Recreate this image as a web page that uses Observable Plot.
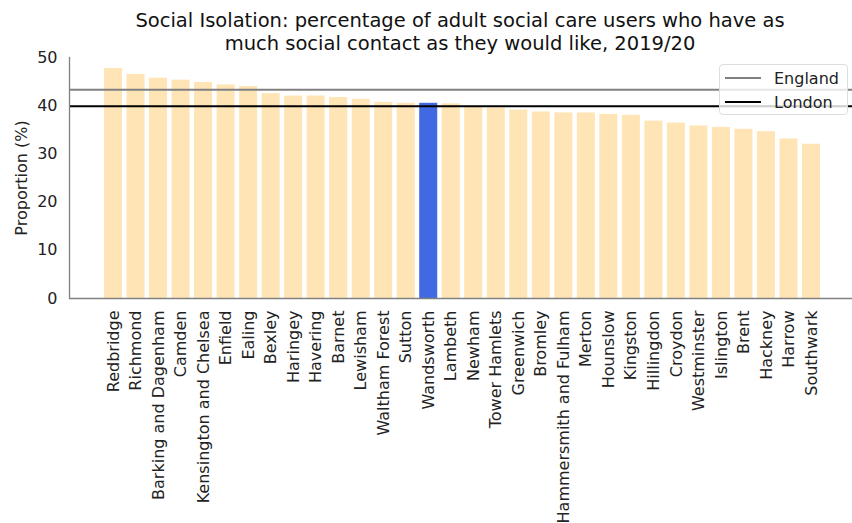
<!DOCTYPE html>
<html>
<head>
<meta charset="utf-8">
<script src="https://cdn.jsdelivr.net/npm/d3@7"></script>
<script src="https://cdn.jsdelivr.net/npm/@observablehq/plot@0.6"></script>
<style>
  body { margin: 0; background: #fff; font-family: "DejaVu Sans", sans-serif; }
  #wrap { position: relative; width: 852px; height: 523px; overflow: hidden; }
  #title { position: absolute; left: 60px; width: 800px; top: 10px; text-align: center;
           font-family: "DejaVu Sans", sans-serif; font-size: 19.5px; line-height: 22.5px; color: #111; }
  #legend { position: absolute; left: 719px; top: 64px; width: 129px; height: 51px;
            background: rgba(255,255,255,0.8); border: 1px solid #ddd; border-radius: 4px;
            box-sizing: border-box; font-family: "DejaVu Sans", sans-serif; font-size: 16px; color: #222; }
  .item { position: absolute; left: 5px; height: 20px; display: flex; align-items: center; }
  .swatch { width: 36px; height: 0; border-top: 2px solid; margin-right: 13px; }
</style>
</head>
<body>
<div id="wrap">
  <div id="chart"></div>
  <div id="title">Social Isolation: percentage of adult social care users who have as<br>much social contact as they would like, 2019/20</div>
  <div id="legend"></div>
</div>
<script>
const boroughs = ["Redbridge","Richmond","Barking and Dagenham","Camden","Kensington and Chelsea","Enfield","Ealing","Bexley","Haringey","Havering","Barnet","Lewisham","Waltham Forest","Sutton","Wandsworth","Lambeth","Newham","Tower Hamlets","Greenwich","Bromley","Hammersmith and Fulham","Merton","Hounslow","Kingston","Hillingdon","Croydon","Westminster","Islington","Brent","Hackney","Harrow","Southwark"];
const values = [47.7,46.5,45.7,45.3,44.8,44.3,44.0,42.5,42.0,42.0,41.7,41.3,40.7,40.5,40.5,40.4,39.7,39.5,39.1,38.7,38.5,38.5,38.2,38.0,36.8,36.4,35.8,35.5,35.1,34.6,33.1,32.0];
const highlight = "Wandsworth";
const englandValue = 43.3;
const londonValue = 39.9;
const yTicks = [0,10,20,30,40,50];
const legendItems = [{label: "England", color: "#808080"}, {label: "London", color: "#000000"}];

const data = boroughs.map((b, i) => ({borough: b, value: values[i]}));

const chart = Plot.plot({
  width: 852,
  height: 523,
  marginLeft: 69,
  marginRight: 0,
  marginTop: 57,
  marginBottom: 225,
  style: {fontFamily: "'DejaVu Sans', sans-serif", fontSize: "16px", color: "#222"},
  x: {domain: boroughs, range: [104, 820], round: false, paddingInner: 0.2, paddingOuter: 0, label: null},
  y: {domain: [0, 50], ticks: yTicks, label: null},
  marks: [
    Plot.barY(data, {x: "borough", y: "value", inset: 0, fill: d => d.borough === highlight ? "#4169E1" : "#FFE4B5"}),
    Plot.ruleY([englandValue], {stroke: "#808080", strokeWidth: 2}),
    Plot.ruleY([londonValue], {stroke: "#000000", strokeWidth: 2}),
    Plot.ruleY([0], {stroke: "#808080", strokeWidth: 1.3}),
    Plot.frame({anchor: "left", stroke: "#808080", strokeWidth: 1.3}),
    Plot.axisY({ticks: yTicks, tickSize: 0, tickPadding: 12, fontSize: 16, label: "Proportion (%)", labelAnchor: "center", labelArrow: "none", labelOffset: 54}),
    Plot.axisX({tickSize: 0, tickPadding: 12, tickRotate: -90, fontSize: 16, label: null})
  ]
});
document.getElementById("chart").appendChild(chart);

const legend = document.getElementById("legend");
legendItems.forEach((it, i) => {
  const div = document.createElement("div");
  div.className = "item";
  div.style.top = (3 + i * 24) + "px";
  const sw = document.createElement("span");
  sw.className = "swatch";
  sw.style.borderColor = it.color;
  const tx = document.createElement("span");
  tx.textContent = it.label;
  div.appendChild(sw); div.appendChild(tx);
  legend.appendChild(div);
});
</script>
</body>
</html>
